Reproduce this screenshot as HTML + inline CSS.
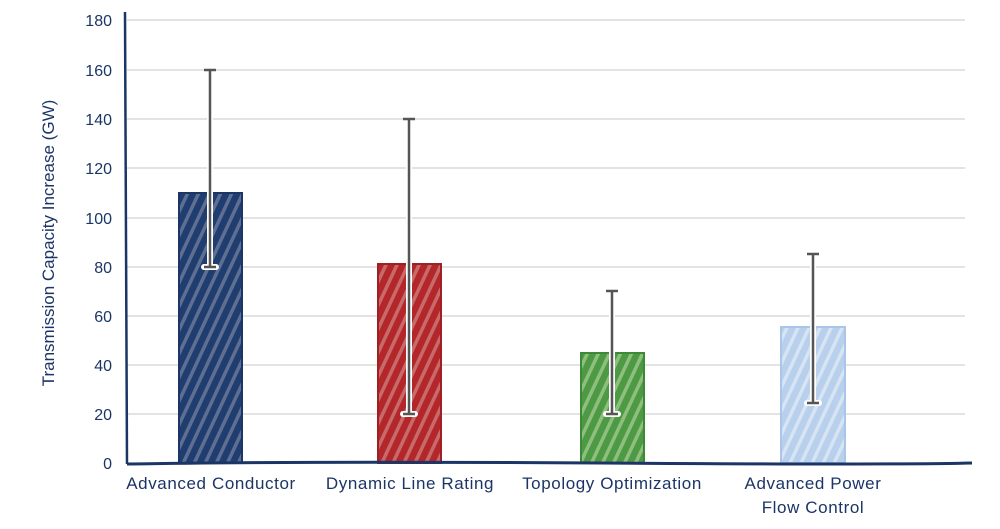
<!DOCTYPE html>
<html><head><style>body{margin:0;background:#fff}svg{display:block}text{font-family:"Liberation Sans",sans-serif;fill:#1b3566}</style></head>
<body>
<svg width="1000" height="529" viewBox="0 0 1000 529">
<defs>
<pattern id="h1" patternUnits="userSpaceOnUse" width="10" height="10" patternTransform="rotate(25)"><rect width="10" height="10" fill="#1f3d6e"/><rect width="3.5" height="10" fill="#5e6f93"/></pattern>
<pattern id="h2" patternUnits="userSpaceOnUse" width="10" height="10" patternTransform="rotate(25)"><rect width="10" height="10" fill="#b3272b"/><rect width="3.5" height="10" fill="#c86a6a"/></pattern>
<pattern id="h3" patternUnits="userSpaceOnUse" width="10" height="10" patternTransform="rotate(25)"><rect width="10" height="10" fill="#4e9a44"/><rect width="3.5" height="10" fill="#8ebf7f"/></pattern>
<pattern id="h4" patternUnits="userSpaceOnUse" width="10" height="10" patternTransform="rotate(25)"><rect width="10" height="10" fill="#b8d0ec"/><rect width="3.5" height="10" fill="#d6e4f4"/></pattern>
</defs>
<g stroke="#e3e3e3" stroke-width="2">
<line x1="127" x2="965" y1="20" y2="20"/><line x1="127" x2="965" y1="70" y2="70"/><line x1="127" x2="965" y1="119" y2="119"/><line x1="127" x2="965" y1="168" y2="168"/><line x1="127" x2="965" y1="218" y2="218"/><line x1="127" x2="965" y1="267" y2="267"/><line x1="127" x2="965" y1="316" y2="316"/><line x1="127" x2="965" y1="365" y2="365"/><line x1="127" x2="965" y1="414" y2="414"/>
</g>
<g font-size="16" text-anchor="end">
<text x="112" y="26">180</text><text x="112" y="76">160</text><text x="112" y="125">140</text><text x="112" y="174">120</text><text x="112" y="224">100</text><text x="112" y="273">80</text><text x="112" y="322">60</text><text x="112" y="371">40</text><text x="112" y="420">20</text><text x="112" y="469">0</text>
</g>
<text transform="translate(54,243) rotate(-90)" font-size="17" text-anchor="middle">Transmission Capacity Increase (GW)</text>
<rect x="179" y="193" width="63" height="270" fill="url(#h1)" stroke="#1b3566" stroke-width="2"/>
<rect x="378" y="264" width="63" height="199" fill="url(#h2)" stroke="#9e1f24" stroke-width="2"/>
<rect x="581" y="353" width="63" height="110" fill="url(#h3)" stroke="#3d8a36" stroke-width="2"/>
<rect x="781" y="327" width="64" height="136" fill="url(#h4)" stroke="#a9c5e8" stroke-width="2"/>
<g stroke="#fff" stroke-width="6" stroke-linecap="round">
<line x1="210" x2="210" y1="70" y2="267"/><line x1="204" x2="216" y1="267" y2="267"/>
<line x1="409" x2="409" y1="119" y2="414"/><line x1="403" x2="415" y1="414" y2="414"/>
<line x1="612" x2="612" y1="291" y2="414"/><line x1="606" x2="618" y1="414" y2="414"/>
<line x1="813" x2="813" y1="254" y2="403"/><line x1="807" x2="819" y1="403" y2="403"/>
</g>
<g stroke="#555" stroke-width="2.5">
<line x1="210" x2="210" y1="70" y2="267"/><line x1="204" x2="216" y1="70" y2="70"/><line x1="204" x2="216" y1="267" y2="267"/>
<line x1="409" x2="409" y1="119" y2="414"/><line x1="403" x2="415" y1="119" y2="119"/><line x1="403" x2="415" y1="414" y2="414"/>
<line x1="612" x2="612" y1="291" y2="414"/><line x1="606" x2="618" y1="291" y2="291"/><line x1="606" x2="618" y1="414" y2="414"/>
<line x1="813" x2="813" y1="254" y2="403"/><line x1="807" x2="819" y1="254" y2="254"/><line x1="807" x2="819" y1="403" y2="403"/>
</g>
<path d="M125 12 L127 464" stroke="#1b3566" stroke-width="2.5" fill="none"/>
<path d="M127 464 Q300 461 600 463 T972 463" stroke="#1b3566" stroke-width="3" fill="none"/>
<g font-size="17" text-anchor="middle" letter-spacing="0.6">
<text x="211" y="489">Advanced Conductor</text>
<text x="410" y="489">Dynamic Line Rating</text>
<text x="612" y="489">Topology Optimization</text>
<text x="813" y="489">Advanced Power</text>
<text x="813" y="513">Flow Control</text>
</g>
</svg>
</body></html>
